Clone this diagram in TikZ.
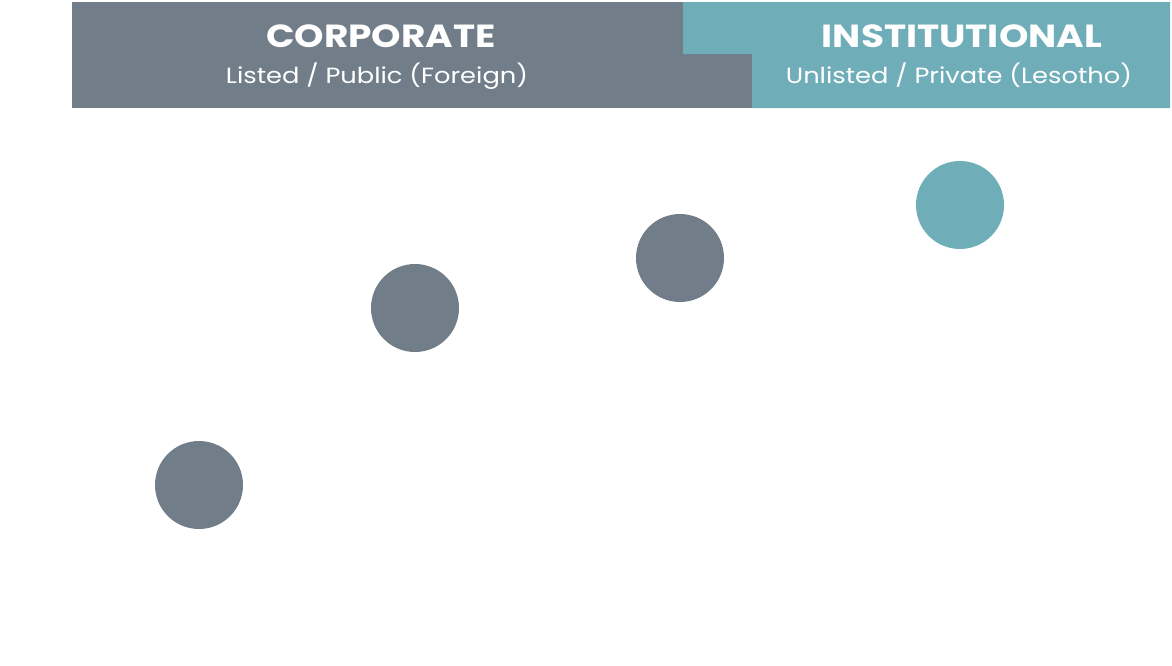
\documentclass[tikz,border=0pt]{standalone}
\usepackage{fontspec}
\setmainfont{Poppins}
\newfontfamily\widefont[FakeStretch=1.17]{Poppins}
\definecolor{slate}{HTML}{717D89}
\definecolor{teal}{HTML}{6FADB8}
\tikzset{
    title/.style={text=white, font=\widefont\fontsize{24}{28}\selectfont\bfseries, anchor=base},
    subtitle/.style={text=white, font=\widefont\fontsize{16.5}{20}\selectfont, anchor=base},
    dot/.style={circle, minimum size=66pt, inner sep=0pt, fill=#1},
}
\begin{document}
\begin{tikzpicture}[x=0.75pt, y=-0.75pt]
    \useasboundingbox (0,0) rectangle (1172,665);
    % header blocks
    \fill[slate] (72,2) rectangle (752,108);
    \fill[teal] (683,2) -- (1170,2) -- (1170,108) -- (752,108) -- (752,54) -- (683,54) -- cycle;
    \node[title] (corp) at (381,47) {CORPORATE};
    \node[subtitle] (corpsub) at (377,83) {Listed / Public (Foreign)};
    \node[title] (inst) at (962,47) {INSTITUTIONAL};
    \node[subtitle] (instsub) at (959,83) {Unlisted / Private (Lesotho)};
    % dots
    \node[dot=slate] (d1) at (199,485) {};
    \node[dot=slate] (d2) at (415,308) {};
    \node[dot=slate] (d3) at (680,258) {};
    \node[dot=teal] (d4) at (960,205) {};
\end{tikzpicture}
\end{document}
